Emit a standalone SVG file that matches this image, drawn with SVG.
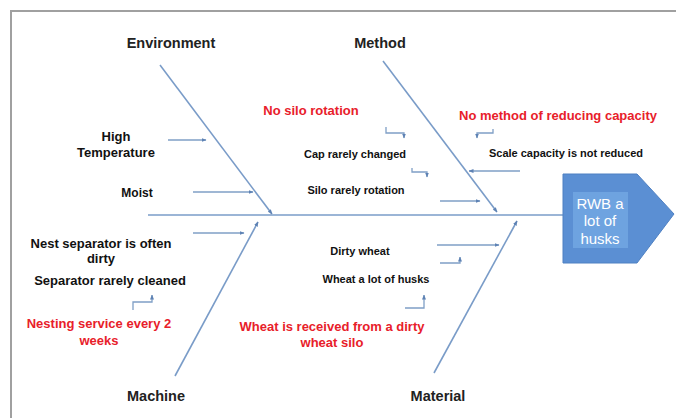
<svg xmlns="http://www.w3.org/2000/svg" width="676" height="418" viewBox="0 0 676 418">
<style>
.bone{stroke:#7a9cc8;stroke-width:1.6;fill:none}
.arr{stroke:#7f9fc6;stroke-width:1.3;fill:none}
.cat{font-family:"Liberation Sans",Arial,sans-serif;font-weight:bold;font-size:14.5px;fill:#222}
.c{font-family:"Liberation Sans",Arial,sans-serif;font-weight:bold;font-size:11px;fill:#111}
.cl{font-family:"Liberation Sans",Arial,sans-serif;font-weight:bold;font-size:13px;fill:#111}
.r{font-family:"Liberation Sans",Arial,sans-serif;font-weight:bold;font-size:13px;fill:#e8202a}
.h{font-family:"Liberation Sans",Arial,sans-serif;font-size:15px;fill:#ffffff}
</style>
<defs>
<marker id="ah" viewBox="0 0 10 10" refX="9" refY="5" markerWidth="5" markerHeight="5" orient="auto" markerUnits="userSpaceOnUse">
<path d="M0,1 L10,5 L0,9 z" fill="#5e82b4"/>
</marker>
</defs>
<rect x="0" y="0" width="676" height="418" fill="#ffffff"/>
<path d="M11,418 V11 H676" fill="none" stroke="#a0a0a0" stroke-width="2"/>
<g id="connectors">
<line class="bone" x1="148" y1="215" x2="563" y2="215"/>
<line class="bone" x1="160" y1="65" x2="272" y2="214" marker-end="url(#ah)"/>
<line class="bone" x1="383" y1="61" x2="497" y2="212" marker-end="url(#ah)"/>
<line class="bone" x1="175" y1="376" x2="258" y2="222" marker-end="url(#ah)"/>
<line class="bone" x1="434" y1="373" x2="517" y2="221" marker-end="url(#ah)"/>
<line class="arr" x1="168" y1="140" x2="206" y2="140" marker-end="url(#ah)"/>
<line class="arr" x1="193" y1="192" x2="253" y2="192" marker-end="url(#ah)"/>
<line class="arr" x1="193" y1="233" x2="244" y2="233" marker-end="url(#ah)"/>
<path class="arr" d="M133,310 V302 H152 V295" marker-end="url(#ah)"/>
<path class="arr" d="M386,127 V133 H404 V138" marker-end="url(#ah)"/>
<path class="arr" d="M412,168 V172 H427 V177" marker-end="url(#ah)"/>
<line class="arr" x1="440" y1="201" x2="480" y2="201" marker-end="url(#ah)"/>
<path class="arr" d="M493,129 V133 H477 V138" marker-end="url(#ah)"/>
<line class="arr" x1="520" y1="171" x2="469" y2="171" marker-end="url(#ah)"/>
<line class="arr" x1="437" y1="245" x2="499" y2="245" marker-end="url(#ah)"/>
<path class="arr" d="M440,263 H460 V257" marker-end="url(#ah)"/>
<path class="arr" d="M405,308 H424 V295" marker-end="url(#ah)"/>
</g>
<g id="head">
<path d="M563,174 H637 L674,214 L637,263 H563 Z" fill="#5b8fd3" stroke="#4f80c2" stroke-width="1"/>
<rect x="573" y="192" width="55" height="56" fill="#6ea3e0"/>
<text class="h" x="600" y="209" text-anchor="middle">RWB a</text>
<text class="h" x="600" y="226" text-anchor="middle">lot of</text>
<text class="h" x="600" y="244" text-anchor="middle">husks</text>
</g>
<g id="environment">
<text class="cat" x="171" y="48" text-anchor="middle">Environment</text>
<text class="cl" x="116" y="141" text-anchor="middle">High</text>
<text class="cl" x="116" y="157" text-anchor="middle">Temperature</text>
<text class="c" x="137" y="197" text-anchor="middle" style="font-size:12px">Moist</text>
</g>
<g id="method">
<text class="cat" x="380" y="48" text-anchor="middle">Method</text>
<text class="r" x="311" y="115" text-anchor="middle">No silo rotation</text>
<text class="c" x="355" y="158" text-anchor="middle">Cap rarely changed</text>
<text class="c" x="356" y="194" text-anchor="middle">Silo rarely rotation</text>
<text class="r" x="558" y="120" text-anchor="middle">No method of reducing capacity</text>
<text class="c" x="566" y="157" text-anchor="middle">Scale capacity is not reduced</text>
</g>
<g id="machine">
<text class="cat" x="156" y="401" text-anchor="middle">Machine</text>
<text class="cl" x="101" y="248" text-anchor="middle">Nest separator is often</text>
<text class="cl" x="101" y="263" text-anchor="middle">dirty</text>
<text class="cl" x="110" y="285" text-anchor="middle">Separator rarely cleaned</text>
<text class="r" x="99" y="328" text-anchor="middle">Nesting service every 2</text>
<text class="r" x="99" y="345" text-anchor="middle">weeks</text>
</g>
<g id="material">
<text class="cat" x="438" y="401" text-anchor="middle">Material</text>
<text class="c" x="360" y="255" text-anchor="middle">Dirty wheat</text>
<text class="c" x="376" y="283" text-anchor="middle">Wheat a lot of husks</text>
<text class="r" x="332" y="331" text-anchor="middle">Wheat is received from a dirty</text>
<text class="r" x="332" y="347" text-anchor="middle">wheat silo</text>
</g>
</svg>
